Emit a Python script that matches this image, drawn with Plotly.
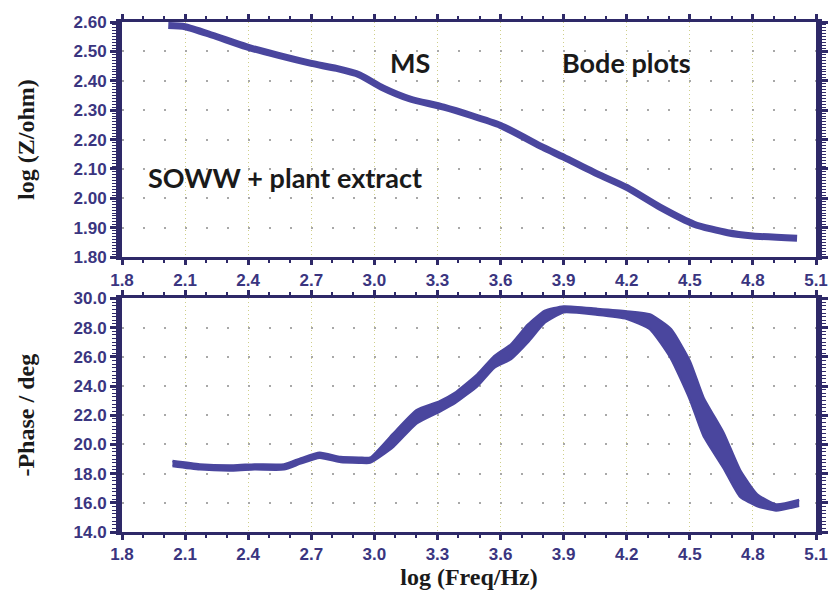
import plotly.graph_objects as go
from plotly.subplots import make_subplots

# ---- data ----
freq_mag = [2.02, 2.10, 2.23, 2.39, 2.54, 2.70, 2.82, 2.93, 3.04, 3.17, 3.33, 3.60, 3.80, 3.90,
            4.06, 4.20, 4.36, 4.52, 4.68, 4.80, 5.01]
log_z = [2.588, 2.584, 2.555, 2.516, 2.487, 2.459, 2.442, 2.420, 2.376, 2.338, 2.310, 2.248, 2.174, 2.140,
         2.083, 2.037, 1.969, 1.912, 1.883, 1.872, 1.864]

freq_phase = [2.04, 2.17, 2.33, 2.43, 2.57, 2.65, 2.74, 2.84, 2.93, 2.98, 3.09, 3.20, 3.31, 3.38, 3.49,
              3.57, 3.65, 3.73, 3.81, 3.90, 4.06, 4.20, 4.31, 4.41, 4.50, 4.565, 4.66, 4.74, 4.82, 4.91, 5.02]
phase_upper = [18.86, 18.63, 18.56, 18.63, 18.63, 19.04, 19.43, 19.13, 19.09, 19.09, 20.74, 22.34, 22.95,
               23.50, 24.80, 26.05, 26.85, 28.20, 29.14, 29.45, 29.28, 29.11, 28.90, 27.90, 25.70, 23.20,
               20.80, 18.20, 16.58, 15.88, 16.19]
phase_lower = [18.52, 18.29, 18.22, 18.29, 18.29, 18.70, 19.09, 18.79, 18.75, 18.75, 19.84, 21.44, 22.25,
               22.80, 24.00, 25.25, 25.85, 27.00, 28.34, 29.05, 28.88, 28.61, 27.90, 25.90, 23.10, 20.60,
               18.40, 16.40, 15.78, 15.48, 15.79]

x_ticks = [1.8, 2.1, 2.4, 2.7, 3.0, 3.3, 3.6, 3.9, 4.2, 4.5, 4.8, 5.1]
x_labels = ["1.8", "2.1", "2.4", "2.7", "3.0", "3.3", "3.6", "3.9", "4.2", "4.5", "4.8", "5.1"]

LINE = "#4a469e"
AXIS = "#2e2968"
TICKC = "#3a3580"
GRIDV = "#cfcf8a"
GRIDH = "#a8a8a8"

fig = make_subplots(rows=2, cols=1, vertical_spacing=0.08)

fig.add_trace(go.Scatter(x=freq_mag, y=log_z, mode="lines",
                         line=dict(color=LINE, width=7, shape="spline", smoothing=0.6),
                         showlegend=False), row=1, col=1)

fig.add_trace(go.Scatter(x=freq_phase, y=phase_lower, mode="lines",
                         line=dict(color=LINE, width=2.5, shape="spline", smoothing=0.5),
                         showlegend=False), row=2, col=1)
fig.add_trace(go.Scatter(x=freq_phase, y=phase_upper, mode="lines", fill="tonexty",
                         fillcolor=LINE,
                         line=dict(color=LINE, width=2.5, shape="spline", smoothing=0.5),
                         showlegend=False), row=2, col=1)

tickfont = dict(family="Liberation Sans Narrow, Arial Narrow, Liberation Sans, sans-serif",
                size=17, color=TICKC, weight="bold")
titlefont = dict(family="Liberation Serif, Times New Roman, serif", size=24, color="#1a1a1a",
                 weight="bold")

xcommon = dict(range=[1.8, 5.1], tickvals=x_ticks, ticktext=x_labels, automargin=False,
               showline=True, linewidth=3, linecolor=AXIS, mirror="ticks",
               ticks="outside", ticklen=5, tickwidth=3, tickcolor=AXIS,
               showgrid=True, gridcolor=GRIDV, gridwidth=1.2, griddash="1px,3px",
               zeroline=False, tickfont=tickfont,
               minor=dict(dtick=0.1, ticks="outside", ticklen=3, tickwidth=2, tickcolor=AXIS,
                          showgrid=False))
fig.update_xaxes(**xcommon, row=1, col=1)
fig.update_xaxes(**xcommon, row=2, col=1)
fig.update_xaxes(title=dict(text="log (Freq/Hz)", font=titlefont, standoff=4), row=2, col=1)

ycommon = dict(showline=True, linewidth=6, linecolor=AXIS, mirror="ticks", automargin=False,
               ticks="outside", ticklen=6, tickwidth=3, tickcolor=AXIS,
               showgrid=True, gridcolor=GRIDH, gridwidth=1.5, griddash="2px,19px",
               zeroline=False, tickfont=tickfont)
fig.update_yaxes(**ycommon, range=[1.8, 2.6], dtick=0.1, tick0=1.8, tickformat=".2f",
                 minor=dict(dtick=0.01, ticks="outside", ticklen=4, tickwidth=1, tickcolor=AXIS,
                            showgrid=False),
                 title=dict(text="log (Z/ohm)", font=titlefont, standoff=34), row=1, col=1)
fig.update_yaxes(**ycommon, range=[14, 30], dtick=2, tick0=14, tickformat=".1f",
                 minor=dict(dtick=0.25, ticks="outside", ticklen=4, tickwidth=1, tickcolor=AXIS,
                            showgrid=False),
                 title=dict(text="-Phase / deg", font=titlefont, standoff=34), row=2, col=1)

fig.update_layout(
    width=828, height=596,
    margin=dict(l=122, r=12, t=22, b=64, autoexpand=False),
    paper_bgcolor="white", plot_bgcolor="white",
)
fig.layout.yaxis.domain = [0.539, 1.0]
fig.layout.yaxis2.domain = [0.0, 0.458]

annfont = dict(family="Lato, Open Sans, sans-serif", size=27, color="#1a1a1a", weight="bold")
fig.add_annotation(x=3.17, y=2.463, xref="x", yref="y", text="MS", showarrow=False, font=annfont)
fig.add_annotation(x=4.20, y=2.463, xref="x", yref="y", text="Bode plots", showarrow=False, font=annfont)
fig.add_annotation(x=2.576, y=2.07, xref="x", yref="y", text="SOWW + plant extract",
                   showarrow=False, font=annfont)

fig.write_html("out.html", config={"displayModeBar": False},
               post_script="document.body.style.margin='0';document.body.style.overflow='hidden';")
